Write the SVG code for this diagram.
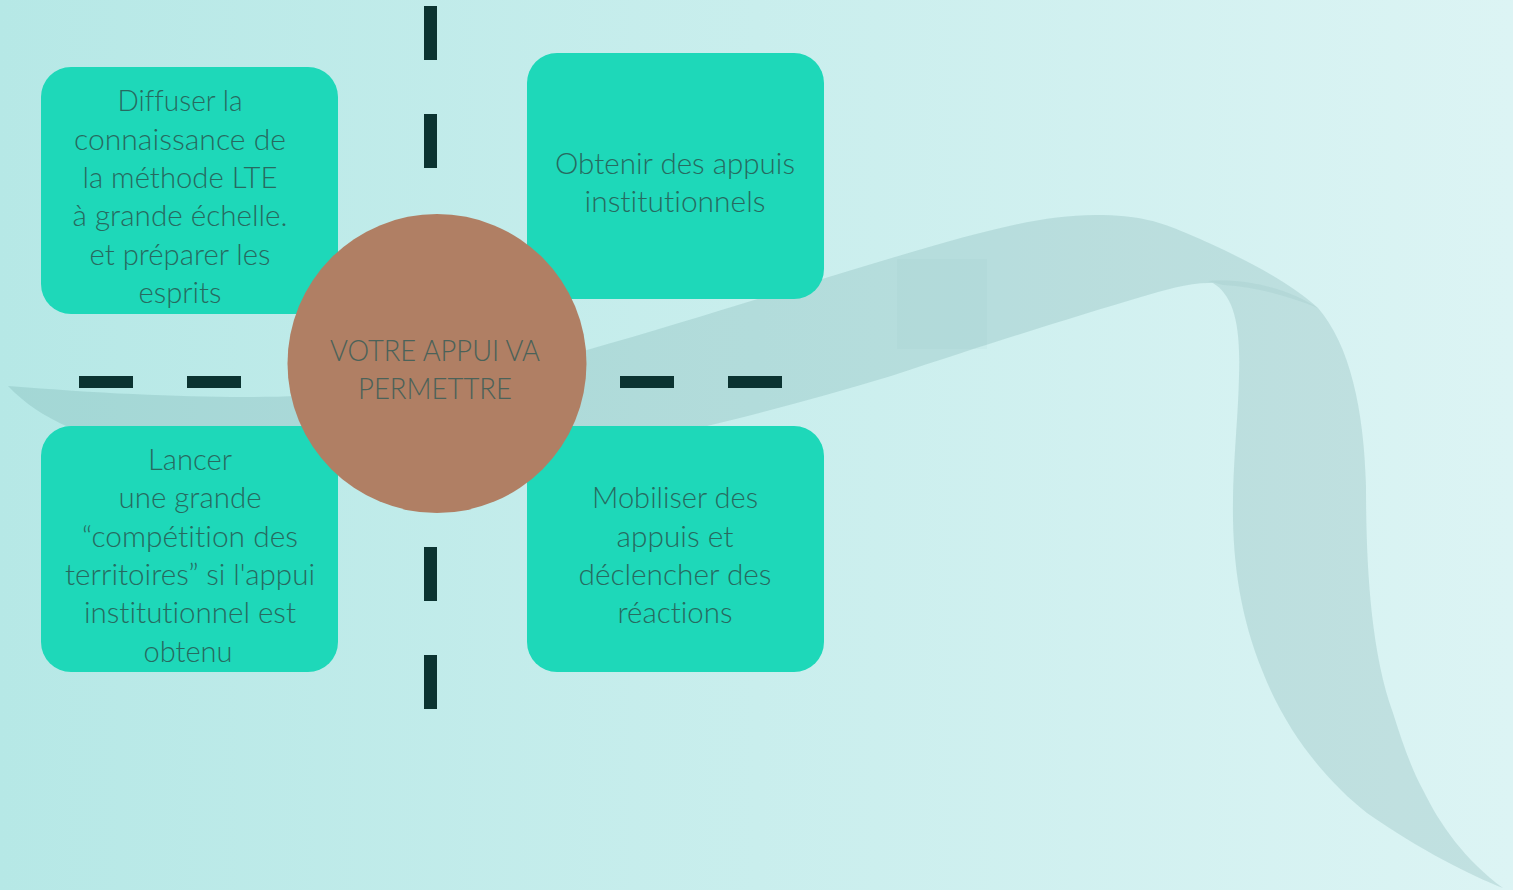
<svg xmlns="http://www.w3.org/2000/svg" width="1513" height="890" viewBox="0 0 1513 890">
<defs>
<linearGradient id="bg" x1="0" y1="0" x2="1" y2="0">
<stop offset="0" stop-color="#b6e8e6"/>
<stop offset="1" stop-color="#dcf4f4"/>
</linearGradient>
<style>
.box{fill:#1ed8b9}
.t{font-family:"Source Sans Pro",Lato,"Open Sans",sans-serif;font-weight:300;font-size:30px;fill:#276a60;text-anchor:middle;font-variant-ligatures:none}
.ct{font-family:"Source Sans Pro",Lato,"Open Sans",sans-serif;font-weight:300;font-size:30px;fill:#4b6259;text-anchor:middle;font-variant-ligatures:none}
.dash{fill:#0b3331}
.ribbon{fill:#508c8c;fill-opacity:0.18}
</style>
</defs>
<rect x="0" y="0" width="1513" height="890" fill="url(#bg)"/>
<g id="ribbon">
<path class="ribbon" d="M 8 386 C 120 395 220 399 300 396 C 420 390 500 375 587 350 C 700 318 800 285 895 257 C 980 232 1040 215 1095 215 C 1140 215 1160 222 1186 233 C 1240 256 1290 282 1318 308 C 1350 345 1364 410 1366 486 C 1366 560 1370 650 1393 713 C 1403 745 1412 770 1423 790 C 1440 825 1465 860 1503 888 C 1470 875 1420 850 1367 813 C 1325 780 1285 730 1262 670 C 1240 615 1232 560 1233 500 C 1234 450 1238 420 1239 376 C 1241 320 1232 295 1213 283 C 1190 282 1165 290 1141 297 C 1080 315 1000 340 891 376 C 800 403 720 425 620 445 L 400 470 L 150 450 C 90 440 40 420 8 386 Z"/>
<path fill="#508c8c" fill-opacity="0.08" d="M 1208 281 C 1250 278 1290 290 1318 308 C 1290 297 1258 287 1223 285 Z"/>
<rect x="897" y="259" width="90" height="90" fill="#508c8c" fill-opacity="0.035"/>
</g>
<g id="connectors">
<rect class="dash" x="424" y="6" width="13" height="54"/>
<rect class="dash" x="424" y="114" width="13" height="54"/>
<rect class="dash" x="424" y="547" width="13" height="54"/>
<rect class="dash" x="424" y="655" width="13" height="54"/>
<rect class="dash" x="79" y="376" width="54" height="12"/>
<rect class="dash" x="187" y="376" width="54" height="12"/>
<rect class="dash" x="620" y="376" width="54" height="12"/>
<rect class="dash" x="728" y="376" width="54" height="12"/>
</g>
<g id="node-diffuser">
<rect class="box" x="41" y="67" width="297" height="247" rx="30"/>
<text class="t" x="180" y="111" textLength="125" lengthAdjust="spacingAndGlyphs">Diffuser la</text>
<text class="t" x="180" y="149.5" textLength="212" lengthAdjust="spacingAndGlyphs">connaissance de</text>
<text class="t" x="180" y="188" textLength="195" lengthAdjust="spacingAndGlyphs">la méthode LTE</text>
<text class="t" x="180" y="226" textLength="215" lengthAdjust="spacingAndGlyphs">à grande échelle.</text>
<text class="t" x="180" y="264.5" textLength="181" lengthAdjust="spacingAndGlyphs">et préparer les</text>
<text class="t" x="180" y="302.5" textLength="83" lengthAdjust="spacingAndGlyphs">esprits</text>
</g>
<g id="node-lancer">
<rect class="box" x="41" y="426" width="297" height="246" rx="30"/>
<text class="t" x="190" y="470" textLength="84" lengthAdjust="spacingAndGlyphs">Lancer</text>
<text class="t" x="190" y="508.3" textLength="143" lengthAdjust="spacingAndGlyphs">une grande</text>
<text class="t" x="190" y="546.6" textLength="216" lengthAdjust="spacingAndGlyphs">“compétition des</text>
<text class="t" x="190" y="585" textLength="250" lengthAdjust="spacingAndGlyphs">territoires” si l'appui</text>
<text class="t" x="190" y="623.3" textLength="212" lengthAdjust="spacingAndGlyphs">institutionnel est</text>
<text class="t" x="188" y="661.6" textLength="89" lengthAdjust="spacingAndGlyphs">obtenu</text>
</g>
<g id="node-obtenir">
<rect class="box" x="527" y="53" width="297" height="246" rx="30"/>
<text class="t" x="675" y="174" textLength="240" lengthAdjust="spacingAndGlyphs">Obtenir des appuis</text>
<text class="t" x="675" y="212" textLength="181" lengthAdjust="spacingAndGlyphs">institutionnels</text>
</g>
<g id="node-mobiliser">
<rect class="box" x="527" y="426" width="297" height="246" rx="30"/>
<text class="t" x="675" y="508" textLength="166" lengthAdjust="spacingAndGlyphs">Mobiliser des</text>
<text class="t" x="675" y="546.5" textLength="117" lengthAdjust="spacingAndGlyphs">appuis et</text>
<text class="t" x="675" y="585" textLength="193" lengthAdjust="spacingAndGlyphs">déclencher des</text>
<text class="t" x="675" y="623" textLength="115" lengthAdjust="spacingAndGlyphs">réactions</text>
</g>
<g id="node-center">
<circle cx="437" cy="363.5" r="149.5" fill="#b07f64"/>
<text class="ct" x="435" y="360.5" textLength="210" lengthAdjust="spacingAndGlyphs">VOTRE APPUI VA</text>
<text class="ct" x="435" y="399" textLength="154" lengthAdjust="spacingAndGlyphs">PERMETTRE</text>
</g>
</svg>
